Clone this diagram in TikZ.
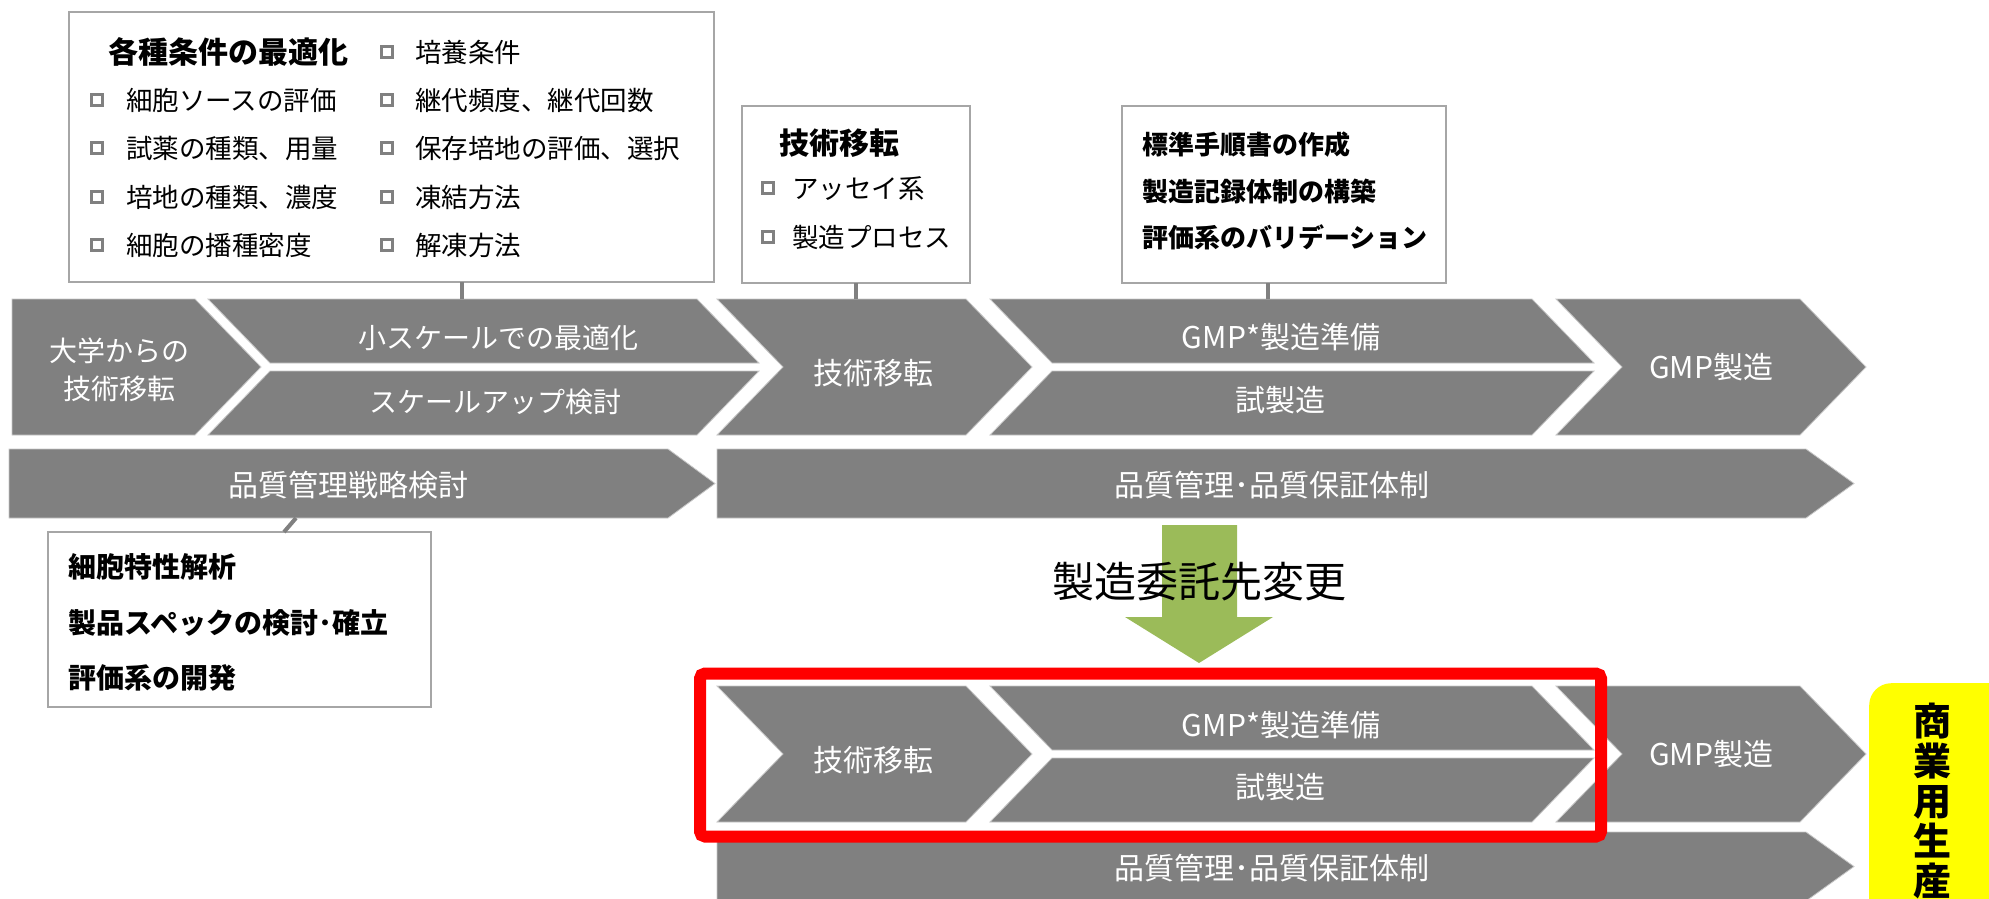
\documentclass[tikz,border=0pt]{standalone}
\usepackage{fontspec}
\setmainfont{Noto Sans CJK JP}
\definecolor{grayc}{HTML}{808080}
\definecolor{edgec}{HTML}{C8C8C8}
\definecolor{boxline}{HTML}{A6A6A6}
\definecolor{arrowgreen}{HTML}{9BBB59}
\definecolor{hlred}{HTML}{FF0000}
\definecolor{hlyellow}{HTML}{FFFF00}
\tikzset{
  shp/.style={fill=grayc, draw=edgec, line width=0.8pt},
  f30/.style={font=\fontsize{30}{36}\selectfont, text height=26.4pt, text depth=3.6pt},
  f28/.style={font=\fontsize{28}{34}\selectfont, text height=24.64pt, text depth=3.36pt},
  f265/.style={font=\fontsize{26.5}{30}\selectfont, text height=23.32pt, text depth=3.18pt},
  f30b/.style={font=\fontsize{30}{36}\selectfont\bfseries, text height=26.4pt, text depth=3.6pt},
  f28b/.style={font=\fontsize{28}{34}\selectfont\bfseries, text height=24.64pt, text depth=3.36pt},
  f26b/.style={font=\fontsize{26}{30}\selectfont\bfseries, text height=22.88pt, text depth=3.12pt},
  f42/.style={font=\fontsize{42}{48}\selectfont, text height=36.96pt, text depth=5.04pt},
  wt/.style={f30, text=white, inner sep=0pt, anchor=center},
  cbox/.style={draw=boxline, fill=white, line width=2pt, inner sep=0pt, outer sep=0pt, anchor=north west},
  conn/.style={draw=grayc, line width=4pt},
  lt/.style={f265, text=black, inner sep=0pt, anchor=west},
  bt/.style={f28b, text=black, inner sep=0pt, anchor=west},
  sq/.style={draw=grayc, line width=2.8pt, fill=white, minimum size=11.5pt, inner sep=0pt, outer sep=0pt},
}
\begin{document}
\begin{tikzpicture}[x=1pt,y=-1pt]
\useasboundingbox (0,0) rectangle (1989,898);
\begin{scope}
\clip (0,0) rectangle (1989,898);
\fill[white] (0,0) rectangle (1989,898);

% ---------- row 1 ----------
\path[shp] (12,299) -- (195,299) -- (261,367) -- (195,435) -- (12,435) -- cycle;
\path[shp] (208,299) -- (697,299) -- (759,363) -- (270,363) -- cycle;
\path[shp] (270,371) -- (759,371) -- (697,435) -- (208,435) -- cycle;
\path[shp] (717,299) -- (966,299) -- (1032,367) -- (966,435) -- (717,435) -- (783,367) -- cycle;
\path[shp] (990,299) -- (1532,299) -- (1594,363) -- (1052,363) -- cycle;
\path[shp] (1052,371) -- (1594,371) -- (1532,435) -- (990,435) -- cycle;
\path[shp] (1556,299) -- (1800,299) -- (1866,367) -- (1800,435) -- (1556,435) -- (1622,367) -- cycle;
\node[wt, f28] (tA1) at (119,351) {大学からの};
\node[wt, f28] (tA2) at (119,389) {技術移転};
\node[wt, f28] (tB1) at (498,338) {小スケールでの最適化};
\node[wt, f28] (tB2) at (495,402) {スケールアップ検討};
\node[wt] (tC) at (873,373) {技術移転};
\node[wt] (tD1) at (1281,337) {GMP*製造準備};
\node[wt] (tD2) at (1280,400) {試製造};
\node[wt] (tE) at (1711,367) {GMP製造};

% ---------- row 2 ----------
\path[shp] (9,449) -- (668,449) -- (715,483.5) -- (668,518) -- (9,518) -- cycle;
\path[shp] (717,449) -- (1806,449) -- (1854,483.5) -- (1806,518) -- (717,518) -- cycle;
\node[wt] (tQ1) at (348,485) {品質管理戦略検討};
\node[wt] (tQ2) at (1272,485) {品質管理･品質保証体制};

% ---------- row 3 ----------
\begin{scope}[shift={(0,387)}]
\path[shp] (717,299) -- (966,299) -- (1032,367) -- (966,435) -- (717,435) -- (783,367) -- cycle;
\path[shp] (990,299) -- (1532,299) -- (1594,363) -- (1052,363) -- cycle;
\path[shp] (1052,371) -- (1594,371) -- (1532,435) -- (990,435) -- cycle;
\path[shp] (1556,299) -- (1800,299) -- (1866,367) -- (1800,435) -- (1556,435) -- (1622,367) -- cycle;
\node[wt] (tC3) at (873,373) {技術移転};
\node[wt] (tD31) at (1281,338) {GMP*製造準備};
\node[wt] (tD32) at (1280,400) {試製造};
\node[wt] (tE3) at (1711,367) {GMP製造};
\end{scope}

% ---------- row 4 ----------
\begin{scope}[shift={(0,383)}]
\path[shp] (717,449) -- (1806,449) -- (1854,483.5) -- (1806,518) -- (717,518) -- cycle;
\node[wt] (tQ4) at (1272,485) {品質管理･品質保証体制};
\end{scope}

% ---------- red frame ----------
\node[draw=hlred, line width=12pt, rounded corners=5pt, minimum width=901pt, minimum height=163pt, inner sep=0pt, outer sep=0pt] (redbox) at (1150.5,755) {};

% ---------- green arrow ----------
\fill[arrowgreen] (1162,525) -- (1237,525) -- (1237,617) -- (1273,617) -- (1199,663) -- (1125,617) -- (1162,617) -- cycle;
\node[f42, text=black, inner sep=0pt] (tChange) at (1199,582) {製造委託先変更};

% ---------- yellow box ----------
\node[fill=hlyellow, rounded corners=22pt, minimum width=170pt, minimum height=280pt, inner sep=0pt, anchor=north west] (yel) at (1869,683) {};
\node[text=black, inner sep=0pt, align=center, font=\fontsize{38}{40}\selectfont\bfseries] (tYel) at (1932,801) {商\\業\\用\\生\\産};

% ---------- callout boxes ----------
\node[cbox, minimum width=645pt, minimum height=270pt] (box1) at (69,12) {};
\node[cbox, minimum width=228pt, minimum height=177pt] (box2) at (742,106) {};
\node[cbox, minimum width=324pt, minimum height=177pt] (box3) at (1122,106) {};
\node[cbox, minimum width=383pt, minimum height=175pt] (box4) at (48,532) {};

\coordinate (c1) at (462,299);
\coordinate (c2) at (856,299);
\coordinate (c3) at (1268,299);
\coordinate (q1) at (296,518);
\coordinate (q2) at (284,532);
\draw[conn] (box1.south -| c1) -- (c1);
\draw[conn] (box2.south -| c2) -- (c2);
\draw[conn] (box3.south -| c3) -- (c3);
\draw[conn] (q1) -- (box4.north -| q2);

% box 1 content
\node[bt, f30b] (h1) at (108,52) {各種条件の最適化};
\foreach \i/\yy/\txt in {1/100/細胞ソースの評価, 2/148/試薬の種類、用量, 3/197/培地の種類、濃度, 4/245/細胞の播種密度}{
  \node[sq] (sa\i) at (97,\yy) {};
  \node[lt] (la\i) at (126,\yy) {\txt};
}
\foreach \i/\yy/\txt in {0/52/培養条件, 1/100/継代頻度、継代回数, 2/148/保存培地の評価、選択, 3/197/凍結方法, 4/245/解凍方法}{
  \node[sq] (sb\i) at (387,\yy) {};
  \node[lt] (lb\i) at (415,\yy) {\txt};
}

% box 2 content
\node[bt, f30b] (h2) at (779,143) {技術移転};
\node[sq] (sc1) at (768,188) {};
\node[lt] (lc1) at (792,188) {アッセイ系};
\node[sq] (sc2) at (768,237) {};
\node[lt] (lc2) at (792,237) {製造プロセス};

% box 3 content
\node[bt, f26b] (d1) at (1142,145) {標準手順書の作成};
\node[bt, f26b] (d2) at (1142,192) {製造記録体制の構築};
\node[bt, f26b] (d3) at (1142,238) {評価系のバリデーション};

% box 4 content
\node[bt] (e1) at (68,567) {細胞特性解析};
\node[bt] (e2) at (68,623) {製品スペックの検討･確立};
\node[bt] (e3) at (68,678) {評価系の開発};
\end{scope}
\end{tikzpicture}
\end{document}
